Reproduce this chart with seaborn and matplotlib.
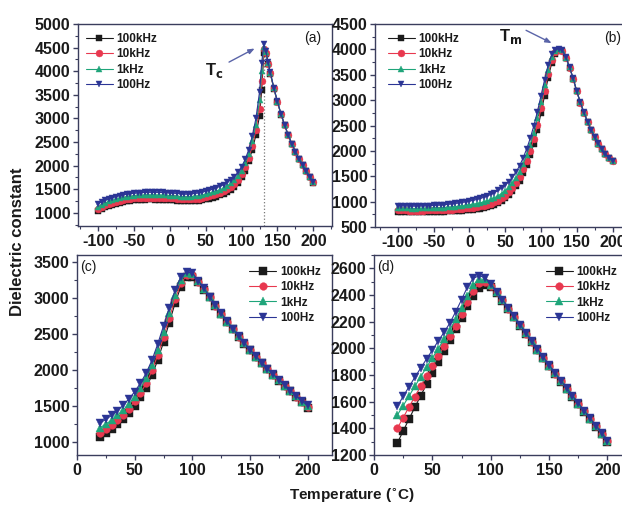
import matplotlib
matplotlib.use("Agg")
import matplotlib.pyplot as plt
from matplotlib.ticker import MultipleLocator, AutoMinorLocator
import seaborn as sns

sns.set_theme(style="white")
plt.rcParams['font.family'] = ['Liberation Sans', 'DejaVu Sans']
plt.rcParams['axes.unicode_minus'] = False

series_names = ["100kHz", "10kHz", "1kHz", "100Hz"]
series_colors = ["#1b1b1b", "#e8384f", "#1fa57a", "#2b3595"]
series_markers = ["s", "o", "^", "v"]

# ---------------- panel (a) ----------------
a_temp = [-100, -95, -90, -85, -80, -75, -70, -65, -60, -55, -50, -45, -40, -35, -30, -25, -20, -15,
          -10, -5, 0, 5, 10, 15, 20, 25, 30, 35, 40, 45, 50, 55, 60, 65, 70, 75, 80, 85, 90, 95,
          100, 105, 110, 115, 120, 125, 128, 131, 134, 137, 140, 145, 150, 155, 160, 165, 170,
          175, 180, 185, 190, 195, 200]
a_100kHz = [1040, 1080, 1115, 1145, 1170, 1195, 1215, 1230, 1245, 1255,
            1265, 1272, 1277, 1280, 1282, 1282, 1280, 1278, 1275, 1272,
            1268, 1263, 1257, 1250, 1245, 1243, 1245, 1250, 1258, 1268,
            1282, 1298, 1318, 1341, 1368, 1400, 1440, 1490, 1555, 1640,
            1750, 1895, 2090, 2340, 2650,
            3050, 3600, 4380, 4360, 4150, 3950,
            3630, 3340, 3080, 2850, 2640, 2455, 2290, 2140, 2005, 1880, 1755, 1640]
a_10kHz = [1080, 1120, 1155, 1185, 1210, 1235, 1255, 1270, 1285, 1295,
           1305, 1312, 1317, 1320, 1322, 1322, 1320, 1318, 1315, 1312,
           1308, 1303, 1297, 1290, 1285, 1283, 1287, 1293, 1302, 1313,
           1328, 1346, 1367, 1392, 1421, 1455, 1497, 1549, 1616, 1703,
           1815, 1963, 2160, 2420, 2750,
           3200, 3800, 4460, 4380, 4160, 3955,
           3635, 3345, 3085, 2853, 2643, 2458, 2292, 2142, 2007, 1882, 1757, 1642]
a_1kHz = [1130, 1170, 1205, 1240, 1265, 1290, 1310, 1325, 1340, 1350,
          1360, 1367, 1372, 1376, 1378, 1378, 1377, 1375, 1372, 1368,
          1364, 1358, 1352, 1345, 1340, 1340, 1345, 1352, 1362, 1375,
          1391, 1410, 1433, 1459, 1490, 1525, 1568, 1622, 1691, 1780,
          1895, 2045, 2248, 2520, 2870,
          3380, 4000, 4520, 4400, 4175, 3965,
          3640, 3350, 3090, 2857, 2647, 2461, 2295, 2145, 2010, 1885, 1760, 1645]
a_100Hz = [1190, 1230, 1265, 1295, 1320, 1345, 1365, 1380, 1395, 1405,
           1415, 1422, 1428, 1432, 1435, 1435, 1434, 1432, 1430, 1426,
           1422, 1416, 1410, 1402, 1396, 1396, 1402, 1411, 1423, 1438,
           1456, 1477, 1501, 1529, 1561, 1598, 1642, 1698, 1768, 1859,
           1976, 2130, 2340, 2630, 3000,
           3560, 4180, 4570, 4420, 4190, 3975,
           3650, 3358, 3095, 2862, 2650, 2464, 2298, 2148, 2012, 1887, 1762, 1648]

# ---------------- panel (b) ----------------
b_temp = [-100, -95, -90, -85, -80, -75, -70, -65, -60, -55, -50, -45, -40, -35, -30, -25, -20, -15,
          -10, -5, 0, 5, 10, 15, 20, 25, 30, 35, 40, 45, 50, 55, 60, 65, 70, 75, 80, 85, 90, 95,
          100, 105, 110, 115, 120, 125, 130, 135, 140, 145, 150, 155, 160, 165, 170, 175, 180,
          185, 190, 195, 200]
b_100kHz = [800, 798, 796, 795, 794, 794, 794, 795, 796, 798,
            800, 801, 803, 805, 808, 811, 815, 819, 824, 829,
            835, 842, 850, 862, 875, 890, 910, 935, 968, 1010,
            1062, 1125, 1205, 1300, 1415, 1555, 1720, 1915, 2145, 2420,
            2740, 3090, 3440, 3730, 3910, 3985, 3970, 3830, 3640, 3420,
            3170, 2950, 2750, 2570, 2410, 2270, 2140, 2030, 1930, 1860, 1800]
b_10kHz = [830, 828, 826, 825, 824, 824, 824, 825, 826, 828,
           830, 832, 834, 837, 840, 844, 848, 853, 859, 865,
           872, 880, 890, 904, 918, 935, 957, 985, 1020, 1065,
           1120, 1188, 1272, 1372, 1492, 1635, 1805, 2005, 2240, 2515,
           2835, 3180, 3515, 3785, 3940, 3995, 3975, 3832, 3642, 3422,
           3172, 2952, 2752, 2572, 2412, 2272, 2142, 2032, 1932, 1862, 1802]
b_1kHz = [870, 868, 866, 865, 864, 864, 865, 866, 868, 870,
          874, 877, 880, 884, 889, 895, 901, 908, 916, 925,
          935, 947, 960, 976, 995, 1018, 1045, 1077, 1115, 1160,
          1215, 1280, 1360, 1465, 1590, 1740, 1915, 2120, 2360, 2640,
          2955, 3290, 3600, 3845, 3970, 4005, 3980, 3835, 3645, 3425,
          3175, 2955, 2755, 2575, 2415, 2275, 2145, 2035, 1935, 1865, 1805]
b_100Hz = [920, 918, 916, 915, 914, 914, 915, 917, 919, 922,
           926, 930, 935, 941, 948, 956, 965, 975, 986, 998,
           1010, 1025, 1042, 1062, 1085, 1112, 1142, 1178, 1220, 1268,
           1325, 1395, 1480, 1580, 1705, 1860, 2040, 2250, 2495, 2775,
           3085, 3400, 3690, 3900, 3995, 4015, 3985, 3840, 3648, 3428,
           3178, 2958, 2758, 2578, 2418, 2278, 2148, 2038, 1938, 1868, 1808]

# ---------------- panel (c) ----------------
c_temp = [20, 25, 30, 35, 40, 45, 50, 55, 60, 65, 70, 75, 80, 85, 90, 95, 100, 105, 110,
          115, 120, 125, 130, 135, 140, 145, 150, 155, 160, 165, 170, 175, 180, 185, 190, 195, 200]
c_100kHz = [1070, 1120, 1180, 1245, 1320, 1405, 1505, 1620, 1755, 1930, 2140, 2390, 2660, 2930,
            3160, 3290, 3300, 3220, 3120,
            3010, 2895, 2780, 2668, 2565, 2465, 2368, 2273, 2183, 2097, 2012, 1932, 1855, 1779,
            1705, 1631, 1557, 1480]
c_10kHz = [1130, 1180, 1240, 1305, 1380, 1465, 1565, 1680, 1815, 1995, 2210, 2460, 2725, 2985,
           3205, 3320, 3318, 3230, 3125,
           3013, 2898, 2783, 2670, 2567, 2467, 2370, 2275, 2185, 2099, 2014, 1934, 1857, 1781,
           1707, 1633, 1559, 1490]
c_1kHz = [1200, 1250, 1305, 1370, 1445, 1530, 1630, 1750, 1885, 2065, 2285, 2535, 2795, 3045,
          3250, 3345, 3335, 3238, 3130,
          3016, 2901, 2786, 2673, 2570, 2470, 2373, 2278, 2188, 2102, 2017, 1937, 1860, 1784,
          1710, 1636, 1562, 1500]
c_100Hz = [1265, 1315, 1370, 1435, 1510, 1600, 1700, 1820, 1960, 2140, 2365, 2615, 2870, 3110,
           3295, 3365, 3348, 3245, 3135,
           3020, 2905, 2790, 2676, 2573, 2473, 2376, 2281, 2191, 2105, 2020, 1940, 1863, 1787,
           1713, 1639, 1565, 1510]

# ---------------- panel (d) ----------------
d_temp = [20, 25, 30, 35, 40, 45, 50, 55, 60, 65, 70, 75, 80, 85, 90, 95, 100, 105,
          110, 115, 120, 125, 130, 135, 140, 145, 150, 155, 160, 165, 170, 175, 180, 185, 190, 195, 200]
d_100kHz = [1290, 1380, 1470, 1558, 1645, 1730, 1815, 1898, 1980, 2062, 2145, 2230, 2315, 2395,
            2450, 2475, 2460, 2415,
            2358, 2295, 2232, 2170, 2108, 2047, 1986, 1926, 1866, 1808, 1750, 1693, 1636, 1580,
            1524, 1468, 1412, 1356, 1300]
d_10kHz = [1400, 1480, 1560, 1638, 1715, 1790, 1865, 1940, 2015, 2090, 2170, 2255, 2345, 2430,
           2490, 2500, 2470, 2420,
           2361, 2298, 2235, 2173, 2111, 2050, 1989, 1929, 1869, 1811, 1753, 1696, 1639, 1583,
           1527, 1471, 1415, 1359, 1303]
d_1kHz = [1500, 1570, 1642, 1715, 1787, 1858, 1928, 1998, 2068, 2140, 2218, 2303, 2395, 2475,
          2520, 2518, 2475, 2422,
          2363, 2300, 2237, 2175, 2113, 2052, 1991, 1931, 1871, 1813, 1755, 1698, 1641, 1585,
          1529, 1473, 1417, 1361, 1305]
d_100Hz = [1565, 1640, 1712, 1783, 1852, 1920, 1987, 2055, 2120, 2190, 2275, 2365, 2460, 2525,
           2545, 2530, 2480, 2425,
           2366, 2303, 2240, 2178, 2116, 2055, 1994, 1934, 1874, 1816, 1758, 1701, 1644, 1588,
           1532, 1476, 1420, 1364, 1308]

W, H = 622, 507
fig = plt.figure(figsize=(W / 100, H / 100), dpi=100)


def px_axes(left, top, right, bottom):
    return fig.add_axes([left / W, 1 - bottom / H, (right - left) / W, (bottom - top) / H])


spine_color = "#3a3d5c"
text_color = "#1a1a1a"


def style_axes(ax, xlim, ylim, xmaj, ymaj):
    ax.set_xlim(*xlim)
    ax.set_ylim(*ylim)
    ax.xaxis.set_major_locator(MultipleLocator(xmaj))
    ax.yaxis.set_major_locator(MultipleLocator(ymaj))
    ax.xaxis.set_minor_locator(AutoMinorLocator(2))
    ax.yaxis.set_minor_locator(AutoMinorLocator(2))
    ax.tick_params(which="major", direction="out", length=3.5, width=1, colors=spine_color,
                   labelcolor=text_color, labelsize=11.5, pad=2, top=False, right=False,
                   left=True, bottom=True)
    ax.tick_params(which="minor", direction="out", length=2, width=0.8, colors=spine_color,
                   top=False, right=False, left=True, bottom=True)
    for lab in ax.get_xticklabels() + ax.get_yticklabels():
        lab.set_fontweight("bold")
    for s in ax.spines.values():
        s.set_color(spine_color)
        s.set_linewidth(1.0)
        s.set_visible(True)
    ax.set_xlabel("")
    ax.set_ylabel("")
    ax.grid(False)


def draw_series(ax, temp, values_list, ms):
    for name, col, mk, vals in zip(series_names, series_colors, series_markers, values_list):
        sns.lineplot(x=temp, y=vals, ax=ax, color=col, marker=mk, markersize=ms,
                     markeredgewidth=0.3, markeredgecolor=col, linewidth=0.8, label=name,
                     estimator=None)


def add_legend(ax, x, y):
    h, l = ax.get_legend_handles_labels()
    leg = ax.legend(h, l, loc="upper left", bbox_to_anchor=(x, y), frameon=False,
                    prop={"weight": "bold", "size": 8.5}, handlelength=2.3, handletextpad=0.3,
                    labelspacing=0.28, borderpad=0, borderaxespad=0)
    for t in leg.get_texts():
        t.set_color(text_color)


# (a)
axA = px_axes(78, 24, 332, 226)
draw_series(axA, a_temp, [a_100kHz, a_10kHz, a_1kHz, a_100Hz], 5)
style_axes(axA, (-128, 226), (720, 5000), 50, 500)
axA.axvline(131, ymin=0, ymax=(4570 - 720) / (5000 - 720), color="#777777", ls=":", lw=0.9, zorder=0)
add_legend(axA, 0.03, 0.955)
axA.text(0.925, 0.93, "(a)", transform=axA.transAxes, fontsize=10, color=text_color,
         ha="center", va="center")
axA.annotate("", xy=(0.705, 0.885), xycoords="axes fraction", xytext=(0.585, 0.805),
             arrowprops=dict(arrowstyle="-|>,head_length=0.3,head_width=0.12", color="#5a64a8", lw=1))
axA.text(0.535, 0.77, r"T$_\mathbf{c}$", transform=axA.transAxes, fontsize=12, fontweight="bold",
         color=text_color, ha="center", va="center")

# (b)
axB = px_axes(375, 24, 629, 227)
draw_series(axB, b_temp, [b_100kHz, b_10kHz, b_1kHz, b_100Hz], 5)
style_axes(axB, (-132, 223), (500, 4500), 50, 500)
add_legend(axB, 0.05, 0.955)
axB.text(0.935, 0.93, "(b)", transform=axB.transAxes, fontsize=10, color=text_color,
         ha="center", va="center")
axB.annotate("", xy=(0.705, 0.9), xycoords="axes fraction", xytext=(0.585, 0.975),
             arrowprops=dict(arrowstyle="-|>,head_length=0.3,head_width=0.12", color="#5a64a8", lw=1))
axB.text(0.535, 0.94, r"T$_\mathbf{m}$", transform=axB.transAxes, fontsize=12, fontweight="bold",
         color=text_color, ha="center", va="center")

# (c)
axC = px_axes(77, 255, 332, 455)
draw_series(axC, c_temp, [c_100kHz, c_10kHz, c_1kHz, c_100Hz], 5.5)
style_axes(axC, (0, 221), (820, 3600), 50, 500)
add_legend(axC, 0.675, 0.945)
axC.text(0.045, 0.94, "(c)", transform=axC.transAxes, fontsize=10, color=text_color,
         ha="center", va="center")

# (d)
axD = px_axes(374, 255, 632, 455)
draw_series(axD, d_temp, [d_100kHz, d_10kHz, d_1kHz, d_100Hz], 5.5)
style_axes(axD, (0, 221), (1200, 2700), 50, 200)
add_legend(axD, 0.665, 0.945)
axD.text(0.045, 0.94, "(d)", transform=axD.transAxes, fontsize=10, color=text_color,
         ha="center", va="center")

fig.text(18 / W, 1 - 242 / H, "Dielectric constant", rotation=90, fontsize=12, fontweight="bold",
         color=text_color, ha="center", va="center")
fig.text(352 / W, 1 - 496 / H, "Temperature ($\\mathbf{^{\\circ}}$C)", fontsize=11, fontweight="bold",
         color=text_color, ha="center", va="center")

fig.savefig("out.png", dpi=100)
